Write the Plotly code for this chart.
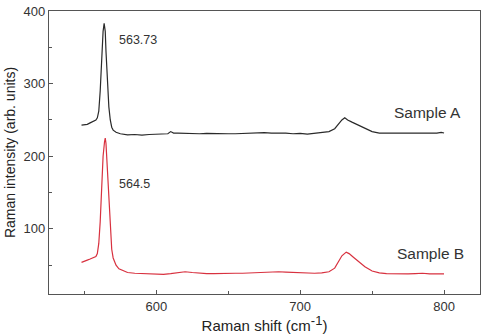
import plotly.graph_objects as go

# Sample A (black)
xa = [548, 550, 552, 554, 556, 558, 559, 560, 561, 562, 563, 563.73, 564.5, 565, 566, 567, 568, 569, 570,
      572, 575, 578, 580, 585, 590, 595, 600, 605, 608, 610, 612, 615, 620, 625, 630, 635, 640, 645, 650,
      655, 660, 665, 670, 675, 680, 685, 690, 695, 700, 705, 710, 715, 720, 724, 727, 729, 731, 733, 736,
      740, 745, 750, 755, 760, 765, 770, 775, 780, 785, 790, 795, 798, 800]
ya = [243, 243.5, 244, 246, 248, 250, 253, 262, 290, 335, 372, 383, 372, 345, 300, 268, 250, 240, 236,
      233, 231, 230, 229.5, 230, 229, 230, 230, 230, 231, 234, 232, 232, 231.5, 232, 231, 231.5, 231, 231.5, 231,
      231, 231.5, 232, 232, 232.5, 232, 232.5, 232, 231, 231.5, 230.5, 231.5, 232, 234, 238, 245, 250, 253, 250, 247,
      243, 238, 234, 232, 232, 231, 231.5, 231, 231, 231.5, 231, 232, 233, 232]

# Sample B (red)
xb = [548, 550, 552, 554, 556, 558, 559, 560, 561, 562, 563, 564, 564.5, 565, 566, 567, 568, 569, 570,
      572, 574, 577, 580, 585, 590, 595, 600, 605, 610, 615, 620, 625, 630, 635, 640, 645, 650, 655, 660,
      665, 670, 675, 680, 685, 690, 695, 700, 705, 710, 715, 720, 724, 727, 729, 732, 734, 737, 740, 745,
      750, 755, 760, 765, 770, 775, 780, 785, 790, 795, 800]
yb = [54, 55, 57, 58.5, 60, 62, 66, 80, 110, 155, 200, 220, 225, 218, 180, 130, 95, 72, 60,
      50, 45, 42, 40, 39, 38.5, 38, 38, 37.5, 38.5, 39.5, 41, 40, 39, 38.5, 38.5, 39, 38.5, 39, 39,
      39.5, 39, 39.5, 40, 41, 40.5, 40, 39, 39, 39, 39.5, 41, 46, 56, 63, 68, 66, 61, 56, 48,
      42, 39.5, 38.5, 38, 38, 38, 38.5, 39, 38, 38.5, 38]

x_ticks = [600, 700, 800]
y_ticks = [100, 200, 300, 400]

fig = go.Figure()
fig.add_trace(go.Scatter(x=xa, y=ya, mode="lines", line=dict(color="#2a2a2a", width=1.2), showlegend=False))
fig.add_trace(go.Scatter(x=xb, y=yb, mode="lines", line=dict(color="#d8313f", width=1.2), showlegend=False))

font = "Liberation Sans, Arial, sans-serif"
ann = [
    (573, 360.6, "563.73", 12.5),
    (573, 162.5, "564.5", 12.5),
    (763.8, 260, "Sample A", 15.5),
    (765.9, 66.2, "Sample B", 15.5),
]
for x, y, t, s in ann:
    fig.add_annotation(x=x, y=y, text=t, showarrow=False, xanchor="left", yanchor="middle",
                       font=dict(family=font, size=s, color="#333333"))

axis_common = dict(showline=True, linecolor="#555555", linewidth=1.2, mirror=True, ticks="inside",
                   ticklen=4, tickcolor="#555555", showgrid=False, zeroline=False,
                   ticklabeloverflow="allow",
                   tickfont=dict(family=font, size=13, color="#333333"))

fig.update_xaxes(range=[525.4, 825], tickvals=x_ticks,
                 minor=dict(ticks="inside", dtick=50, tick0=550, ticklen=3, tickcolor="#555555"),
                 title=dict(text="Raman shift (cm<sup><span style='font-size:13px'>-1</span></sup>)",
                            font=dict(family=font, size=15, color="#222222"), standoff=5),
                 **axis_common)
fig.update_yaxes(range=[10.4, 400], tickvals=y_ticks,
                 minor=dict(ticks="inside", dtick=50, tick0=50, ticklen=3, tickcolor="#555555"),
                 title=dict(text="Raman intensity (arb. units)", font=dict(family=font, size=14, color="#222222"),
                            standoff=4),
                 **axis_common)

fig.update_layout(width=485, height=334, margin=dict(l=49, r=4, t=7, b=40),
                  paper_bgcolor="white", plot_bgcolor="white")

fig.write_html("out.html")
